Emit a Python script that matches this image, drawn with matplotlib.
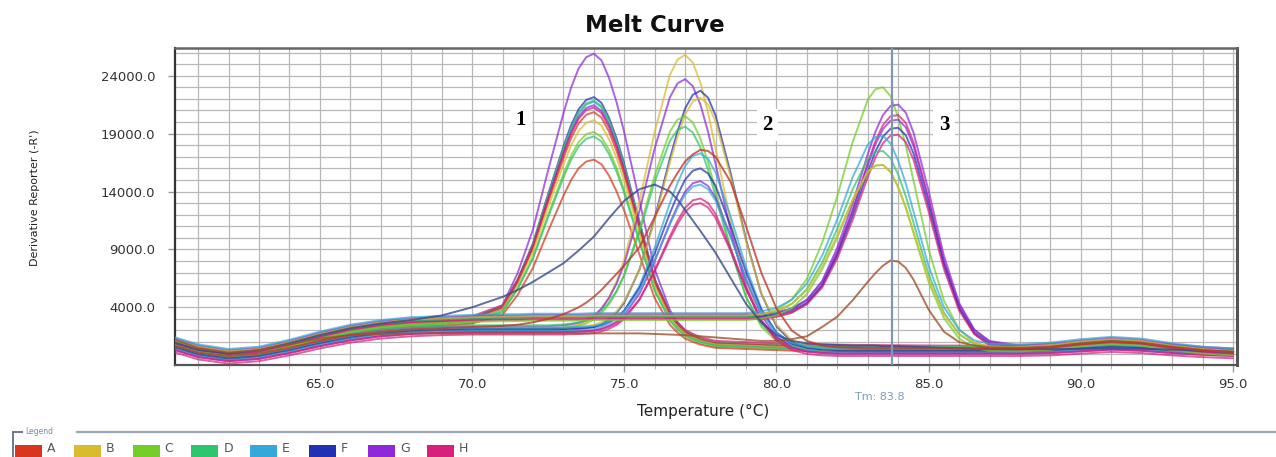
import matplotlib
matplotlib.use("Agg")
import matplotlib.pyplot as plt
import numpy as np
from matplotlib.ticker import FixedLocator, MultipleLocator, FormatStrFormatter

# ---------------- data ----------------
temps = [60.25, 61, 62, 63, 64, 65, 66, 67, 68, 69,
         70, 71, 71.5, 72, 72.5, 73, 73.25, 73.5, 73.75, 74,
         74.25, 74.5, 74.75, 75, 75.5, 76, 76.5, 76.75, 77, 77.25,
         77.5, 77.75, 78, 78.5, 79, 79.5, 80, 80.5, 81, 81.5,
         82, 82.5, 83, 83.25, 83.5, 83.75, 84, 84.25, 84.5, 85,
         85.5, 86, 86.5, 87, 88, 89, 90, 91, 92, 93,
         94, 95]

# normalised peak shapes (fraction of peak height above baseline)
profile_peak1 = [0, 0, 0, 0, 0, 0, 0, 0, 0, 0,
                 0.01, 0.06, 0.18, 0.34, 0.56, 0.77, 0.866, 0.94, 0.984, 1.0,
                 0.98, 0.92, 0.835, 0.73, 0.49, 0.25, 0.11, 0.07, 0.04, 0.025,
                 0.012, 0.006, 0, 0, 0, 0, 0, 0, 0, 0,
                 0, 0, 0, 0, 0, 0, 0, 0, 0, 0,
                 0, 0, 0, 0, 0, 0, 0, 0, 0, 0,
                 0, 0]
profile_peak2a = [0, 0, 0, 0, 0, 0, 0, 0, 0, 0,
                  0, 0, 0, 0, 0, 0.004, 0.008, 0.014, 0.025, 0.044,
                  0.072, 0.114, 0.172, 0.25, 0.46, 0.71, 0.92, 0.979, 1.0, 0.977,
                  0.91, 0.808, 0.685, 0.43, 0.22, 0.094, 0.033, 0.01, 0.003, 0,
                  0, 0, 0, 0, 0, 0, 0, 0, 0, 0,
                  0, 0, 0, 0, 0, 0, 0, 0, 0, 0,
                  0, 0]
profile_peak2b = [0, 0, 0, 0, 0, 0, 0, 0, 0, 0,
                  0, 0, 0, 0, 0, 0, 0.002, 0.004, 0.008, 0.014,
                  0.025, 0.044, 0.072, 0.114, 0.25, 0.46, 0.71, 0.823, 0.92, 0.979,
                  1.0, 0.977, 0.91, 0.685, 0.43, 0.22, 0.094, 0.033, 0.01, 0.003,
                  0, 0, 0, 0, 0, 0, 0, 0, 0, 0,
                  0, 0, 0, 0, 0, 0, 0, 0, 0, 0,
                  0, 0]
profile_peak3a = [0, 0, 0, 0, 0, 0, 0, 0, 0, 0,
                  0, 0, 0, 0, 0, 0, 0, 0, 0, 0,
                  0, 0, 0, 0, 0, 0, 0, 0, 0, 0,
                  0, 0, 0, 0, 0, 0.009, 0.027, 0.07, 0.157, 0.31,
                  0.51, 0.74, 0.93, 0.982, 1.0, 0.975, 0.90, 0.793, 0.66, 0.39,
                  0.19, 0.076, 0.024, 0.006, 0, 0, 0, 0, 0, 0,
                  0, 0]
profile_peak3b = [0, 0, 0, 0, 0, 0, 0, 0, 0, 0,
                  0, 0, 0, 0, 0, 0, 0, 0, 0, 0,
                  0, 0, 0, 0, 0, 0, 0, 0, 0, 0,
                  0, 0, 0, 0, 0, 0, 0.009, 0.027, 0.07, 0.157,
                  0.31, 0.51, 0.74, 0.847, 0.93, 0.982, 1.0, 0.975, 0.90, 0.66,
                  0.39, 0.19, 0.076, 0.024, 0, 0, 0, 0, 0, 0,
                  0, 0]

# baselines for each product group
baseline_peak1 = [800, 200, -200, 100, 700, 1400, 2000, 2400, 2600, 2700,
                  2750, 2750, 2700, 2650, 2550, 2450, 2375, 2300, 2225, 2150,
                  2050, 1950, 1850, 1750, 1550, 1350, 1150, 1075, 1000, 950,
                  900, 850, 800, 750, 700, 650, 600, 560, 520, 500,
                  480, 460, 450, 445, 440, 435, 430, 425, 420, 410,
                  400, 400, 400, 400, 420, 500, 700, 850, 750, 500,
                  280, 150]
baseline_peak2 = [600, 0, -350, -150, 350, 950, 1450, 1800, 2000, 2100,
                  2150, 2150, 2150, 2150, 2150, 2150, 2150, 2150, 2125, 2100,
                  2100, 2100, 2075, 2050, 2000, 1900, 1700, 1600, 1500, 1400,
                  1300, 1200, 1100, 900, 700, 550, 450, 400, 350, 320,
                  300, 300, 300, 300, 300, 300, 300, 300, 300, 300,
                  300, 300, 300, 300, 300, 350, 500, 650, 550, 350,
                  200, 100]
baseline_peak3 = [1100, 500, 100, 300, 900, 1600, 2200, 2600, 2850, 2950,
                  3050, 3100, 3100, 3150, 3150, 3150, 3150, 3150, 3175, 3200,
                  3200, 3200, 3200, 3200, 3200, 3200, 3200, 3200, 3200, 3200,
                  3200, 3200, 3200, 3200, 3200, 3200, 3200, 3200, 3150, 3050,
                  2900, 2700, 2400, 2200, 2000, 1750, 1500, 1300, 1100, 800,
                  600, 500, 450, 450, 500, 650, 950, 1150, 1000, 600,
                  300, 150]

# wells of product 1 (Tm ~74.0)
peak1_rows = ["G", "F", "E", "D", "G", "H", "A", "B", "C", "D", "A"]
peak1_heights = [23750, 19900, 19700, 19500, 19300, 18800, 18600, 18000, 17200, 16700, 14900]
peak1_offsets = [0, 100, -100, 200, 0, 300, 100, 0, -200, -100, -300]

# wells of product 2 (Tm ~77.0 / 77.5)
peak2_rows = ["B", "G", "F", "B", "C", "D", "E", "F", "G", "E", "H", "H"]
peak2_shape = ["a", "a", "b", "b", "a", "a", "b", "b", "b", "b", "b", "b"]
peak2_heights = [24300, 22000, 21500, 20700, 19000, 17800, 16200, 14700, 13900, 13200, 12600, 12000]
peak2_offsets = [0, 200, -100, 100, 0, 300, -200, 0, -300, 100, -500, -300]

# wells of product 3 (Tm ~83.5 / 84.0)
peak3_rows = ["C", "G", "H", "G", "F", "H", "E", "D", "C", "B"]
peak3_shape = ["a", "b", "b", "b", "b", "b", "a", "a", "a", "a"]
peak3_heights = [21000, 19900, 19300, 18500, 18000, 17500, 16500, 15500, 14600, 14200]
peak3_offsets = [0, 100, -200, 200, 0, -100, 300, 0, -300, 100]

# individual wells with their own shape
broad_well_F = [900, 300, 0, 300, 900, 1600, 2200, 2600, 2900, 3300,
                4000, 4900, 5500, 6200, 7000, 7800, 8350, 8900, 9500, 10100,
                10900, 11700, 12450, 13200, 14200, 14600, 14000, 13300, 12400, 11500,
                10600, 9650, 8700, 6500, 4300, 2700, 1600, 1100, 900, 800,
                750, 700, 700, 700, 650, 650, 650, 625, 600, 550,
                500, 450, 420, 400, 400, 400, 420, 450, 420, 350,
                250, 150]
small_well_A = [1200, 500, 100, 300, 800, 1300, 1600, 1700, 1750, 1750,
                1750, 1750, 1750, 1750, 1750, 1750, 1750, 1750, 1750, 1750,
                1750, 1750, 1750, 1750, 1750, 1700, 1650, 1625, 1600, 1550,
                1500, 1450, 1400, 1300, 1200, 1100, 1100, 1250, 1500, 2300,
                3200, 4600, 6200, 6950, 7600, 8050, 7950, 7400, 6400, 3800,
                1900, 1000, 700, 550, 500, 600, 900, 1100, 950, 600,
                300, 150]
early_well_A = [700, 100, -200, 0, 500, 1100, 1600, 1900, 2100, 2200,
                2300, 2400, 2500, 2700, 3000, 3400, 3700, 4000, 4400, 4900,
                5500, 6200, 6900, 7600, 9200, 11800, 14500, 15600, 16600, 17200,
                17600, 17500, 17000, 14800, 11000, 7000, 3900, 2000, 1100, 700,
                550, 500, 450, 450, 450, 450, 450, 450, 450, 450,
                450, 450, 450, 450, 450, 550, 800, 1000, 900, 550,
                300, 150]

legend_rows = ["A", "B", "C", "D", "E", "F", "G", "H"]
x_ticks = [65, 70, 75, 80, 85, 90, 95]
y_ticks = [4000, 9000, 14000, 19000, 24000]
tm_value = 83.8
peak_labels = ["1", "2", "3"]
peak_label_pos = [(71.6, 20200), (79.7, 19750), (85.5, 19750)]

# ---------------- style ----------------
row_colors = {"A": "#d8361f", "B": "#d8bc2e", "C": "#74cc26", "D": "#2cc46c",
              "E": "#34a8d8", "F": "#2231b4", "G": "#8e28d8", "H": "#d6207c"}
curve_alpha = 0.72
curve_lw = 1.4

W, H = 1276, 457
fig = plt.figure(figsize=(W / 100, H / 100), dpi=100)
fig.patch.set_facecolor("white")
ax = fig.add_axes([175 / W, 1 - 365 / H, (1237 - 175) / W, (365 - 48) / H])

T = np.array(temps)
prof2 = {"a": np.array(profile_peak2a), "b": np.array(profile_peak2b)}
prof3 = {"a": np.array(profile_peak3a), "b": np.array(profile_peak3b)}

for r, h, o in zip(peak1_rows, peak1_heights, peak1_offsets):
    y = np.array(baseline_peak1) + o + h * np.array(profile_peak1)
    ax.plot(T, y, color=row_colors[r], lw=curve_lw, alpha=curve_alpha, zorder=3)
for r, s, h, o in zip(peak2_rows, peak2_shape, peak2_heights, peak2_offsets):
    y = np.array(baseline_peak2) + o + h * prof2[s]
    ax.plot(T, y, color=row_colors[r], lw=curve_lw, alpha=curve_alpha, zorder=3)
for r, s, h, o in zip(peak3_rows, peak3_shape, peak3_heights, peak3_offsets):
    y = np.array(baseline_peak3) + o + h * prof3[s]
    ax.plot(T, y, color=row_colors[r], lw=curve_lw, alpha=curve_alpha, zorder=3)
ax.plot(T, broad_well_F, color="#3a4a8c", lw=curve_lw, alpha=0.8, zorder=3)
ax.plot(T, small_well_A, color="#a0522d", lw=curve_lw, alpha=0.8, zorder=3)
ax.plot(T, early_well_A, color="#c0392b", lw=curve_lw, alpha=0.8, zorder=3)

# Tm marker
ax.axvline(tm_value, color="#7f97b5", lw=1.6, zorder=4)

ax.set_xlim(60.24, 95.13)
ax.set_ylim(-980, 26390)
ax.xaxis.set_major_locator(FixedLocator(x_ticks))
ax.xaxis.set_minor_locator(MultipleLocator(1))
ax.yaxis.set_major_locator(FixedLocator(y_ticks))
ax.yaxis.set_minor_locator(MultipleLocator(1000))
ax.xaxis.set_major_formatter(FormatStrFormatter("%.1f"))
ax.yaxis.set_major_formatter(FormatStrFormatter("%.1f"))
ax.grid(which="both", color="#b8b8b8", lw=0.9, zorder=0)
ax.set_axisbelow(True)
ax.tick_params(axis="both", which="major", labelsize=9.5, labelcolor="#333333",
               color="#999999", length=5, width=1)
ax.tick_params(axis="x", which="minor", length=3, color="#aaaaaa")
ax.tick_params(axis="y", which="minor", length=0)
ax.tick_params(axis="x", pad=4)
ax.tick_params(axis="y", pad=9)
for side, c, lw in [("left", "#333333", 1.6), ("bottom", "#555555", 1.6),
                    ("top", "#666666", 1.8), ("right", "#555555", 2.2)]:
    ax.spines[side].set_color(c)
    ax.spines[side].set_linewidth(lw)

for lab, (tx, ty) in zip(peak_labels, peak_label_pos):
    ax.text(tx, ty, lab, fontsize=15, fontweight="bold", family="Liberation Serif",
            ha="center", va="center", zorder=6,
            bbox=dict(facecolor="white", edgecolor="none", pad=4))

fig.text(655 / W, 1 - 25 / H, "Melt Curve", fontsize=16.5, fontweight="bold",
         ha="center", va="center", color="#111111")
fig.text(35 / W, 1 - 198 / H, "Derivative Reporter (-R')", rotation=90,
         fontsize=8, ha="center", va="center", color="#222222")
fig.text(703 / W, 1 - 411 / H, "Temperature (°C)", fontsize=11,
         ha="center", va="center", color="#222222")

# overlay in pixel coordinates for legend strip and Tm text
ov = fig.add_axes([0, 0, 1, 1], zorder=5)
ov.set_xlim(0, W)
ov.set_ylim(H, 0)
ov.axis("off")
ov.text(855, 397, "Tm: %.1f" % tm_value, fontsize=8, color="#7a9cc0",
        ha="left", va="center")
ov.plot([77, W], [432, 432], color="#9aa4b4", lw=1.6)
ov.plot([13, 22], [432, 432], color="#6a7890", lw=1.4)
ov.plot([13, 13], [432, H], color="#6a7890", lw=1.4)
ov.text(25, 431, "Legend", fontsize=5.5, color="#7a8aa0", ha="left", va="center")
for i, r in enumerate(legend_rows):
    x0 = 15 + i * 58.8
    ov.add_patch(plt.Rectangle((x0, 445), 27, 12, facecolor=row_colors[r],
                               edgecolor="none"))
    ov.text(x0 + 32, 449, r, fontsize=9, color="#555555", ha="left", va="center")

fig.savefig("out.png", dpi=100, facecolor="white")
